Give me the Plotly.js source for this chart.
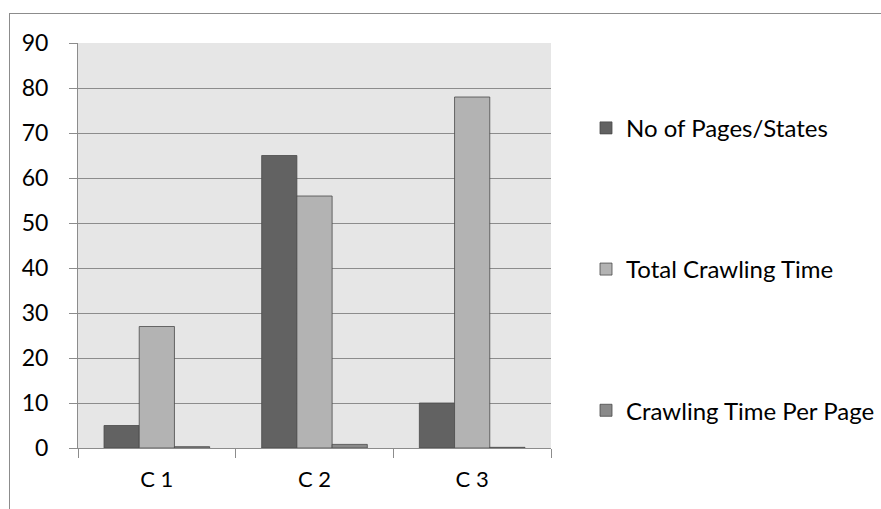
<!DOCTYPE html>
<html>
<head>
<meta charset="utf-8">
<script src="https://cdn.plot.ly/plotly-3.0.1.min.js"></script>
<style>
html,body{margin:0;padding:0;background:#fff;}
#wrap{position:relative;width:881px;height:509px;}
#chart{width:881px;height:509px;}
#frame{position:absolute;left:9px;top:13px;width:900px;height:520px;border-top:1px solid #8c8c8c;border-left:1px solid #8c8c8c;pointer-events:none;}
</style>
</head>
<body>
<div id="wrap">
<div id="chart"></div>
<div id="frame"></div>
</div>
<script>
var categories = ["C 1", "C 2", "C 3"];
var pagesStates = [5, 65, 10];
var totalCrawlingTime = [27, 56, 78];
var timePerPage = [0.3, 0.8, 0.15];
var seriesNames = ["No of Pages/States", "Total Crawling Time", "Crawling Time Per Page"];
var seriesColors = ["#626262", "#b3b3b3", "#8a8a8a"];
var yTicks = [0, 10, 20, 30, 40, 50, 60, 70, 80, 90];

var font = "Lato, 'Open Sans', sans-serif";
var seriesData = [pagesStates, totalCrawlingTime, timePerPage];
var traces = seriesData.map(function (vals, i) {
  return {
    type: "bar",
    x: categories,
    y: vals,
    name: seriesNames[i],
    legendgroup: "g" + i,
    marker: {color: seriesColors[i], line: {color: "#4a4a4a", width: 0.8}},
    hoverinfo: "x+y+name"
  };
});

var layout = {
  width: 881,
  height: 509,
  margin: {l: 78, r: 330, t: 43, b: 61, autoexpand: false},
  paper_bgcolor: "#ffffff",
  plot_bgcolor: "#e6e6e6",
  barmode: "group",
  bargap: 0.33,
  bargroupgap: 0,
  font: {family: font, size: 22, color: "#000"},
  showlegend: true,
  legend: {
    x: 1.074, xanchor: "left",
    y: 0.845, yanchor: "top",
    traceorder: "grouped",
    tracegroupgap: 107,
    font: {family: font, size: 24, color: "#000"},
    itemwidth: 30,
    bgcolor: "rgba(0,0,0,0)"
  },
  xaxis: {
    type: "category",
    tickson: "boundaries",
    ticks: "outside",
    ticklen: 9,
    tickcolor: "#8c8c8c",
    tickwidth: 1,
    showline: true,
    linecolor: "#8c8c8c",
    showgrid: false,
    tickfont: {family: font, size: 22, color: "#000"},
    ticklabelstandoff: 12,
    fixedrange: true
  },
  yaxis: {
    range: [0, 90],
    tickvals: yTicks,
    ticks: "outside",
    ticklen: 8,
    tickcolor: "#8c8c8c",
    showline: true,
    linecolor: "#8c8c8c",
    showgrid: true,
    gridcolor: "#8c8c8c",
    gridwidth: 1,
    zeroline: false,
    tickfont: {family: font, size: 23, color: "#000"},
    ticklabelstandoff: 16,
    fixedrange: true
  }
};

Plotly.newPlot("chart", traces, layout, {displayModeBar: false, staticPlot: true});
</script>
</body>
</html>
